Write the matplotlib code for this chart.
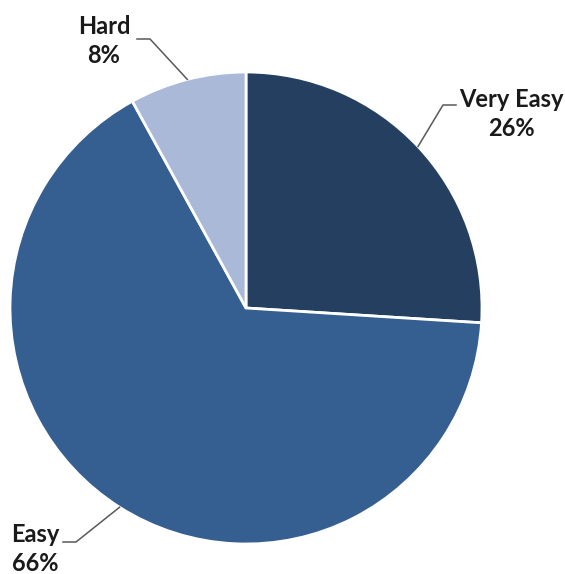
import numpy as np
import matplotlib
matplotlib.use('Agg')
import matplotlib.pyplot as plt

# data
labels = ['Very Easy', 'Easy', 'Hard']
shares = [26, 66, 8]
colors = ['#243F60', '#355E91', '#AAB9D7']

# label text positions (pixels, y from top) and elbow points of leader lines
text_pos = [(511, 114), (35, 549), (104, 41)]
elbows = [(443, 105), (76, 542), (150, 39)]
ends = [(456, 105), (63, 542), (137, 39)]

W, H = 565, 574
cx, cy, r = 246, 308, 236

fig = plt.figure(figsize=(W / 100, H / 100), dpi=100)
ax = fig.add_axes([0, 0, 1, 1])

wedges, _ = ax.pie(shares, colors=colors, startangle=90, counterclock=False,
                   center=(cx, H - cy), radius=r,
                   wedgeprops=dict(edgecolor='white', linewidth=2))
ax.set_xlim(0, W)
ax.set_ylim(0, H)
ax.set_aspect('equal')
ax.axis('off')

for w, lab, s, tp, el, en in zip(wedges, labels, shares, text_pos, elbows, ends):
    mid = np.deg2rad((w.theta1 + w.theta2) / 2)
    px = cx + r * np.cos(mid)
    py = (H - cy) + r * np.sin(mid)
    ax.plot([px, el[0], en[0]], [py, H - el[1], H - en[1]], color='#595959', lw=1.1)
    ax.text(tp[0], H - tp[1], f'{lab}\n{s}%', ha='center', va='center',
            fontsize=17, fontweight='bold', family='Lato', color='#1a1a1a',
            linespacing=1.3)

fig.savefig('out.png', dpi=100)
